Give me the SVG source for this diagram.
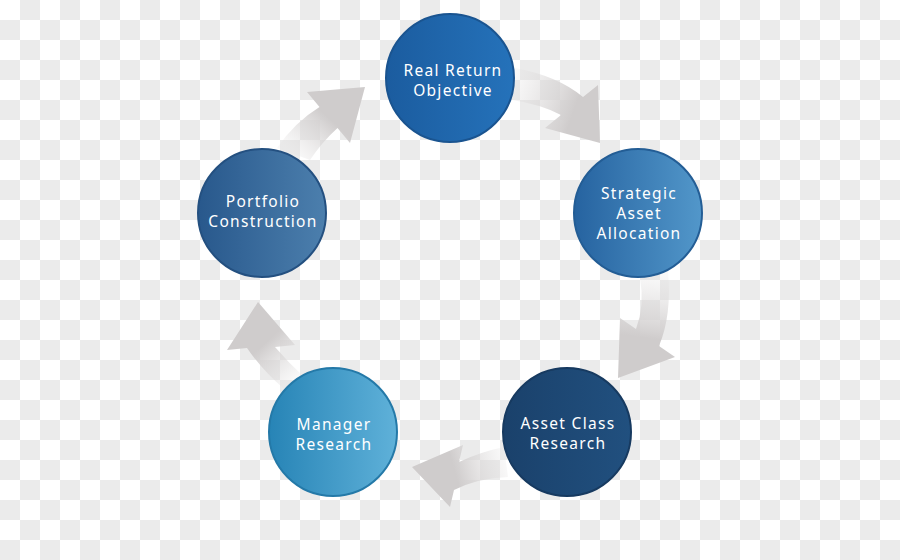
<svg xmlns="http://www.w3.org/2000/svg" width="900" height="560" viewBox="0 0 900 560">
<defs>
<pattern id="checker" x="0" y="0" width="40" height="40" patternUnits="userSpaceOnUse">
<rect width="40" height="40" fill="#ffffff"/>
<rect x="20" y="0" width="20" height="20" fill="#ebebeb"/>
<rect x="0" y="20" width="20" height="20" fill="#ebebeb"/>
</pattern>
<linearGradient id="gRR" x1="0" y1="0" x2="1" y2="0"><stop offset="0" stop-color="#1b5c9f"/><stop offset="1" stop-color="#2572ba"/></linearGradient>
<linearGradient id="gSA" x1="0" y1="0" x2="1" y2="0"><stop offset="0" stop-color="#2663a0"/><stop offset="1" stop-color="#5297ca"/></linearGradient>
<linearGradient id="gAC" x1="0" y1="0" x2="1" y2="0"><stop offset="0" stop-color="#1a416b"/><stop offset="1" stop-color="#21507f"/></linearGradient>
<linearGradient id="gMR" x1="0" y1="0" x2="1" y2="0"><stop offset="0" stop-color="#2784b6"/><stop offset="1" stop-color="#5fb1d9"/></linearGradient>
<linearGradient id="gPC" x1="0" y1="0" x2="1" y2="0"><stop offset="0" stop-color="#28588c"/><stop offset="1" stop-color="#4c7fad"/></linearGradient>
<linearGradient id="a1" gradientUnits="userSpaceOnUse" x1="512" y1="85" x2="575" y2="108"><stop offset="0" stop-color="#e2e0e0" stop-opacity="0.2"/><stop offset="1" stop-color="#cfcccc"/></linearGradient>
<linearGradient id="a2" gradientUnits="userSpaceOnUse" x1="655" y1="275" x2="647" y2="338"><stop offset="0" stop-color="#e2e0e0" stop-opacity="0.2"/><stop offset="1" stop-color="#cfcccc"/></linearGradient>
<linearGradient id="a3" gradientUnits="userSpaceOnUse" x1="506" y1="462" x2="456" y2="476"><stop offset="0" stop-color="#e2e0e0" stop-opacity="0.2"/><stop offset="1" stop-color="#cfcccc"/></linearGradient>
<linearGradient id="a4" gradientUnits="userSpaceOnUse" x1="293" y1="382" x2="261" y2="347"><stop offset="0" stop-color="#e2e0e0" stop-opacity="0.2"/><stop offset="1" stop-color="#cfcccc"/></linearGradient>
<linearGradient id="a5" gradientUnits="userSpaceOnUse" x1="293" y1="154" x2="328" y2="117"><stop offset="0" stop-color="#e2e0e0" stop-opacity="0.2"/><stop offset="1" stop-color="#cfcccc"/></linearGradient>
</defs>
<style>
.node circle { stroke-width: 2; }
.lbl { font-family: "Noto Sans", "Open Sans", sans-serif; font-size: 15.5px; fill: #ffffff; text-anchor: middle; letter-spacing: 1.3px; }
</style>
<rect width="900" height="560" fill="url(#checker)"/>
<g id="connectors">
<path d="M 515,68 Q 558,76 583,97 L 598,85 L 600,143 L 545,128 L 561,115 Q 540,104 512,100 Z" fill="url(#a1)"/>
<path d="M 668,271 Q 672,315 659,346 L 675,357 L 618,378 L 620,318 L 636,329 Q 645,305 640,278 Z" fill="url(#a2)"/>
<path d="M 504,447 Q 480,452 459,462 L 463,445 L 412,467 L 450,507 L 454,490 Q 478,478 508,477 Z" fill="url(#a3)"/>
<path d="M 247,348 L 227,350 L 258,302 L 295,345 L 275,347 Q 288,362 302,375 L 284,389 Q 262,370 247,348 Z" fill="url(#a4)"/>
<path d="M 277,148 Q 295,122 319.5,107 L 307,92 L 365,87 L 350,143 L 337.5,128 Q 322,142 310,160 Z" fill="url(#a5)"/>
</g>
<g id="real-return" class="node">
<circle cx="450" cy="78" r="64" fill="url(#gRR)" stroke="#1a5490"/>
<text class="lbl" x="453" y="76">Real Return</text>
<text class="lbl" x="453" y="96">Objective</text>
</g>
<g id="strategic-asset" class="node">
<circle cx="638" cy="213" r="64" fill="url(#gSA)" stroke="#235d95"/>
<text class="lbl" x="639" y="199">Strategic</text>
<text class="lbl" x="639" y="219">Asset</text>
<text class="lbl" x="639" y="239">Allocation</text>
</g>
<g id="asset-class" class="node">
<circle cx="567" cy="432" r="64" fill="url(#gAC)" stroke="#173a60"/>
<text class="lbl" x="568" y="429">Asset Class</text>
<text class="lbl" x="568" y="449">Research</text>
</g>
<g id="manager-research" class="node">
<circle cx="333" cy="432" r="64" fill="url(#gMR)" stroke="#2479a8"/>
<text class="lbl" x="334" y="430">Manager</text>
<text class="lbl" x="334" y="450">Research</text>
</g>
<g id="portfolio-construction" class="node">
<circle cx="262" cy="213" r="64" fill="url(#gPC)" stroke="#245080"/>
<text class="lbl" x="263" y="207">Portfolio</text>
<text class="lbl" x="263" y="227">Construction</text>
</g>
</svg>
